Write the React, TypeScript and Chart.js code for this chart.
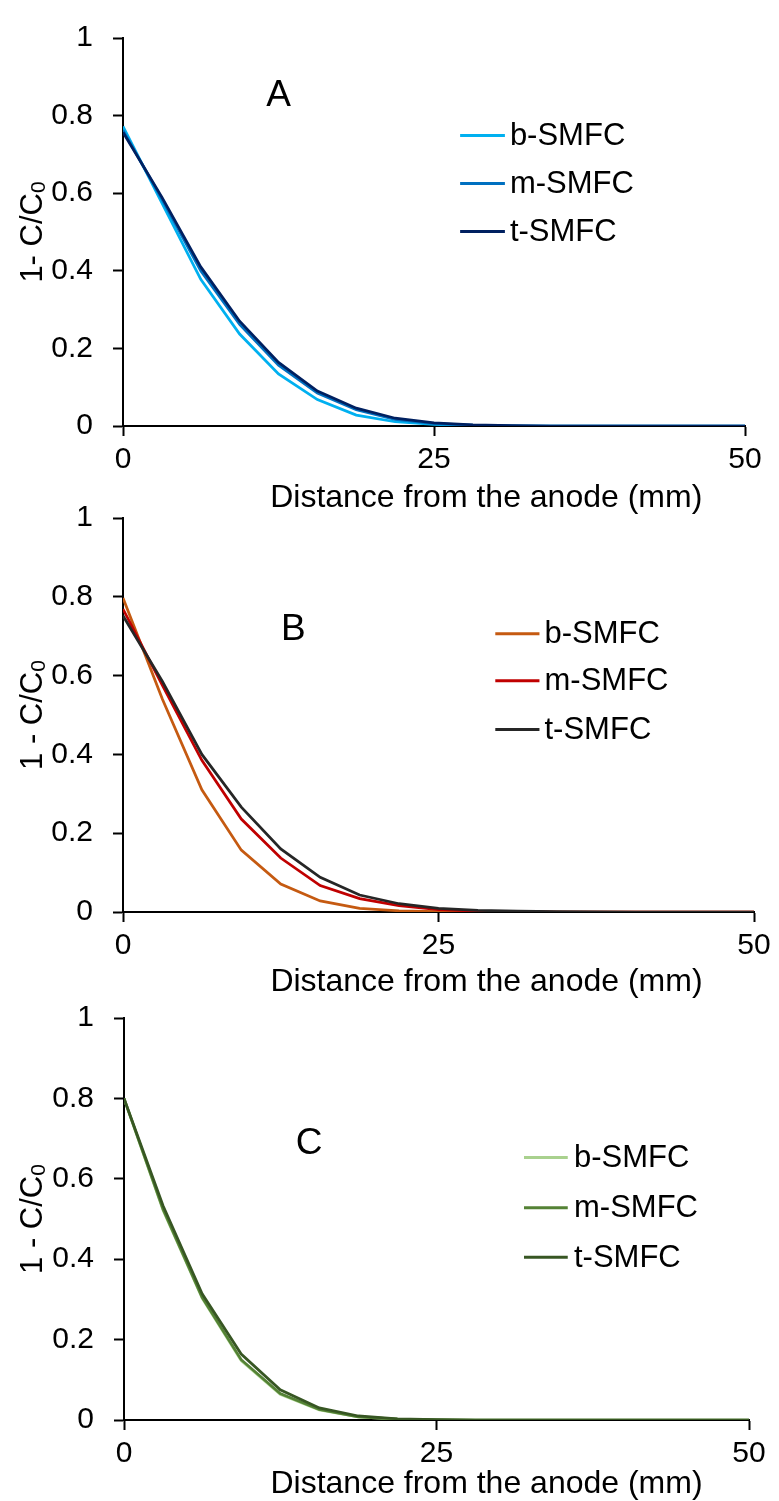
import { useEffect, useRef } from 'react';
import { Chart, registerables } from 'chart.js';

Chart.register(...registerables);

const FONT = '"Liberation Sans", Arial, Helvetica, sans-serif';

// ---- data ----
const DISTANCE_MM = [0, 3.125, 6.25, 9.375, 12.5, 15.625, 18.75, 21.875, 25, 28.125, 31.25, 34.375, 37.5, 40.625, 43.75, 46.875, 50];
const SERIES_NAMES = ['b-SMFC', 'm-SMFC', 't-SMFC'];
const X_TICKS = [0, 25, 50];
const Y_TICKS = [0, 0.2, 0.4, 0.6, 0.8, 1];
const X_TITLE = 'Distance from the anode (mm)';

// Panel A
const A_B_SMFC = [0.772, 0.575, 0.378, 0.237, 0.134, 0.068, 0.028, 0.011, 0.004, 0.001, 0, 0, 0, 0, 0, 0, 0];
const A_M_SMFC = [0.762, 0.585, 0.4, 0.262, 0.157, 0.085, 0.042, 0.017, 0.006, 0.002, 0.0005, 0, 0, 0, 0, 0, 0];
const A_T_SMFC = [0.757, 0.59, 0.41, 0.27, 0.164, 0.09, 0.046, 0.02, 0.008, 0.003, 0.001, 0, 0, 0, 0, 0, 0];

// Panel B
const B_B_SMFC = [0.797, 0.54, 0.31, 0.157, 0.071, 0.028, 0.009, 0.003, 0.001, 0, 0, 0, 0, 0, 0, 0, 0];
const B_M_SMFC = [0.769, 0.575, 0.385, 0.236, 0.137, 0.067, 0.034, 0.016, 0.006, 0.002, 0.001, 0, 0, 0, 0, 0, 0];
const B_T_SMFC = [0.752, 0.585, 0.4, 0.266, 0.16, 0.088, 0.043, 0.021, 0.009, 0.004, 0.002, 0.001, 0.0005, 0, 0, 0, 0];

// Panel C
const C_B_SMFC = [0.8, 0.522, 0.303, 0.148, 0.064, 0.025, 0.008, 0.002, 0.0005, 0, 0, 0, 0, 0, 0, 0, 0];
const C_M_SMFC = [0.8, 0.524, 0.305, 0.15, 0.066, 0.026, 0.008, 0.002, 0.0005, 0, 0, 0, 0, 0, 0, 0, 0];
const C_T_SMFC = [0.8, 0.533, 0.314, 0.164, 0.075, 0.03, 0.01, 0.003, 0.001, 0, 0, 0, 0, 0, 0, 0, 0];

const COLORS_A = ['#00B0F0', '#0070C0', '#002060'];
const COLORS_B = ['#C55A11', '#C00000', '#262626'];
const COLORS_C = ['#A9D18E', '#548235', '#375623'];

type PanelCfg = {
  label: string;
  yTitle: string;
  series: number[][];
  colors: string[];
  top: number;
  height: number;
  padTop: number;
  padRight: number;
  left: number;
  xHeight: number;
  labelAt: [number, number];
  legendX: [number, number, number];
  legendY: number[];
  xTitleAt: number;
  xTitleOffset: number;
};

const PANELS: PanelCfg[] = [
  {
    label: 'A', yTitle: '1- C/C', series: [A_B_SMFC, A_M_SMFC, A_T_SMFC], colors: COLORS_A,
    top: 0, height: 520, padTop: 23, padRight: 34, left: 123, xHeight: 94,
    labelAt: [12.5, 0.851], legendX: [27.1, 30.7, 31.1], legendY: [0.749, 0.625, 0.501],
    xTitleAt: 29.2, xTitleOffset: 81,
  },
  {
    label: 'B', yTitle: '1 - C/C', series: [B_B_SMFC, B_M_SMFC, B_T_SMFC], colors: COLORS_B,
    top: 480, height: 520, padTop: 24, padRight: 25, left: 123, xHeight: 88,
    labelAt: [13.5, 0.715], legendX: [29.5, 33.0, 33.4], legendY: [0.706, 0.587, 0.463],
    xTitleAt: 28.8, xTitleOffset: 79,
  },
  {
    label: 'C', yTitle: '1 - C/C', series: [C_B_SMFC, C_M_SMFC, C_T_SMFC], colors: COLORS_C,
    top: 980, height: 521, padTop: 33, padRight: 30, left: 124, xHeight: 81,
    labelAt: [14.8, 0.687], legendX: [32.0, 35.5, 36.0], legendY: [0.653, 0.528, 0.405],
    xTitleAt: 29.0, xTitleOffset: 73,
  },
];

function Panel({ cfg }: { cfg: PanelCfg }) {
  const ref = useRef<HTMLCanvasElement | null>(null);

  useEffect(() => {
    const canvas = ref.current;
    if (!canvas) return;

    const textPlugin = {
      id: 'panelText',
      afterDraw(chart: any) {
        const { ctx, chartArea } = chart;
        const x = chart.scales.x;
        const y = chart.scales.y;
        ctx.save();
        ctx.fillStyle = '#000';

        // panel letter
        ctx.font = `37px ${FONT}`;
        ctx.textAlign = 'center';
        ctx.textBaseline = 'middle';
        ctx.fillText(cfg.label, x.getPixelForValue(cfg.labelAt[0]), y.getPixelForValue(cfg.labelAt[1]));

        // legend
        ctx.font = `31px ${FONT}`;
        ctx.textAlign = 'left';
        ctx.textBaseline = 'middle';
        SERIES_NAMES.forEach((name, i) => {
          const py = y.getPixelForValue(cfg.legendY[i]);
          ctx.strokeStyle = cfg.colors[i];
          ctx.lineWidth = 3;
          ctx.beginPath();
          ctx.moveTo(x.getPixelForValue(cfg.legendX[0]), py);
          ctx.lineTo(x.getPixelForValue(cfg.legendX[1]), py);
          ctx.stroke();
          ctx.fillStyle = '#000';
          ctx.fillText(name, x.getPixelForValue(cfg.legendX[2]), py + 1);
        });

        // x title
        ctx.font = `32px ${FONT}`;
        ctx.textAlign = 'center';
        ctx.textBaseline = 'alphabetic';
        ctx.fillText(X_TITLE, x.getPixelForValue(cfg.xTitleAt), chartArea.bottom + cfg.xTitleOffset);

        // y title with subscript
        ctx.translate(42, (chartArea.top + chartArea.bottom) / 2);
        ctx.rotate(-Math.PI / 2);
        ctx.font = `31px ${FONT}`;
        const mainW = ctx.measureText(cfg.yTitle).width;
        ctx.font = `21px ${FONT}`;
        const subW = ctx.measureText('0').width;
        const start = -(mainW + subW) / 2;
        ctx.textAlign = 'left';
        ctx.font = `31px ${FONT}`;
        ctx.fillText(cfg.yTitle, start, 0);
        ctx.font = `21px ${FONT}`;
        ctx.fillText('0', start + mainW, 3);
        ctx.restore();
      },
    };

    const axisGrid = {
      drawOnChartArea: false,
      drawTicks: true,
      tickLength: 10,
      tickColor: '#000',
      tickWidth: 2,
      color: '#000',
    };

    const chart = new Chart(canvas, {
      type: 'line',
      data: {
        datasets: cfg.series.map((vals, i) => ({
          label: SERIES_NAMES[i],
          data: DISTANCE_MM.map((d, k) => ({ x: d, y: vals[k] })),
          borderColor: cfg.colors[i],
          backgroundColor: cfg.colors[i],
          borderWidth: 2.75,
          pointRadius: 0,
          tension: 0,
          fill: false,
          order: 3 - i,
        })),
      },
      options: {
        responsive: false,
        maintainAspectRatio: false,
        animation: false,
        devicePixelRatio: 1,
        layout: { padding: { top: cfg.padTop, right: cfg.padRight, left: 0, bottom: 0 } },
        plugins: { legend: { display: false }, tooltip: { enabled: false } },
        scales: {
          x: {
            type: 'linear',
            min: 0,
            max: 50,
            afterBuildTicks: (s: any) => { s.ticks = X_TICKS.map((v) => ({ value: v })); },
            afterFit: (s: any) => { s.height = cfg.xHeight; },
            grid: axisGrid,
            border: { display: true, color: '#000', width: 2 },
            ticks: {
              font: { family: FONT, size: 30 },
              color: '#000',
              padding: 6,
              maxRotation: 0,
              autoSkip: false,
            },
          },
          y: {
            type: 'linear',
            min: 0,
            max: 1,
            afterBuildTicks: (s: any) => { s.ticks = Y_TICKS.map((v) => ({ value: v })); },
            afterFit: (s: any) => { s.width = cfg.left; },
            grid: axisGrid,
            border: { display: true, color: '#000', width: 2 },
            ticks: {
              font: { family: FONT, size: 30 },
              color: '#000',
              padding: 20,
              callback: (v: any) => String(Math.round(Number(v) * 10) / 10),
            },
          },
        },
      } as any,
      plugins: [textPlugin],
    });

    return () => chart.destroy();
  }, [cfg]);

  return (
    <canvas
      ref={ref}
      width={779}
      height={cfg.height}
      style={{ position: 'absolute', left: 0, top: cfg.top, width: 779, height: cfg.height }}
    />
  );
}

export default function App() {
  return (
    <div style={{ position: 'absolute', left: 0, top: 0, width: 779, height: 1501, background: '#fff', overflow: 'hidden' }}>
      {PANELS.map((p) => (
        <Panel key={p.label} cfg={p} />
      ))}
    </div>
  );
}
